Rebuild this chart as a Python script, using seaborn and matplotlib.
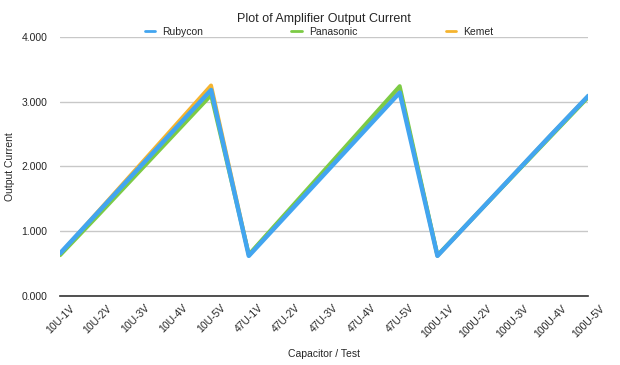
import pandas as pd
import matplotlib
matplotlib.use("Agg")
import matplotlib.pyplot as plt
import seaborn as sns

# Categories and values
tests = ["10U-1V", "10U-2V", "10U-3V", "10U-4V", "10U-5V",
         "47U-1V", "47U-2V", "47U-3V", "47U-4V", "47U-5V",
         "100U-1V", "100U-2V", "100U-3V", "100U-4V", "100U-5V"]
rubycon = [0.66, 1.29, 1.92, 2.55, 3.18,
           0.62, 1.25, 1.88, 2.51, 3.14,
           0.62, 1.24, 1.86, 2.48, 3.09]
panasonic = [0.63, 1.24, 1.86, 2.48, 3.10,
             0.64, 1.29, 1.94, 2.59, 3.24,
             0.63, 1.24, 1.85, 2.46, 3.07]
kemet = [0.65, 1.30, 1.95, 2.60, 3.25,
         0.63, 1.27, 1.91, 2.55, 3.19,
         0.62, 1.24, 1.86, 2.48, 3.09]

df = pd.DataFrame({"test": tests * 3,
                   "current": rubycon + panasonic + kemet,
                   "maker": ["Rubycon"] * 15 + ["Panasonic"] * 15 + ["Kemet"] * 15})
df["pos"] = list(range(15)) * 3

sns.set_style("white")
plt.rcParams["font.family"] = ["Liberation Sans", "DejaVu Sans"]

colors = {"Rubycon": "#42A5F0", "Panasonic": "#7CCB45", "Kemet": "#F5B42F"}

fig = plt.figure(figsize=(6.2, 3.65), dpi=100)
ax = fig.add_axes([0.097, 0.189, 0.852, 0.71])

# draw Kemet first so Rubycon ends up on top
for name, z in [("Kemet", 3), ("Panasonic", 4), ("Rubycon", 5)]:
    sns.lineplot(data=df[df["maker"] == name], x="pos", y="current",
                 color=colors[name], linewidth=2.8 if name != "Rubycon" else 3.2,
                 ax=ax, zorder=z, label=name, sort=False)

ax.set_xlim(0, 14)
ax.set_ylim(0, 4)
ax.set_yticks([0, 1, 2, 3, 4])
ax.set_yticklabels([f"{v:.3f}" for v in [0, 1, 2, 3, 4]], fontsize=7.5)
ax.set_xticks(range(15))
ax.set_xticklabels(tests, rotation=45, fontsize=7.5)
ax.tick_params(axis="y", length=0, pad=9)
ax.tick_params(axis="x", length=0, pad=5)
ax.yaxis.grid(True, color="#c8c8c8", linewidth=1)
ax.xaxis.grid(False)
for s in ["top", "right", "left"]:
    ax.spines[s].set_visible(False)
ax.spines["bottom"].set_color("#333333")
ax.spines["bottom"].set_linewidth(1.2)
ax.spines["bottom"].set_zorder(6)

ax.set_xlabel("Capacitor / Test", fontsize=7.5, labelpad=7)
ax.set_ylabel("Output Current", fontsize=7.5, labelpad=5)
ax.set_title("Plot of Amplifier Output Current", fontsize=9, pad=11)

handles, labels = ax.get_legend_handles_labels()
order = [labels.index(n) for n in ["Rubycon", "Panasonic", "Kemet"]]
leg = ax.legend([handles[i] for i in order], [labels[i] for i in order],
                loc="lower center", bbox_to_anchor=(0.49, 0.985), ncol=3,
                frameon=False, fontsize=7.5, handlelength=1.0,
                columnspacing=8.5, handletextpad=0.67, borderaxespad=0)
for h in leg.get_lines():
    h.set_linewidth(2)

fig.savefig("out.png", dpi=100)
